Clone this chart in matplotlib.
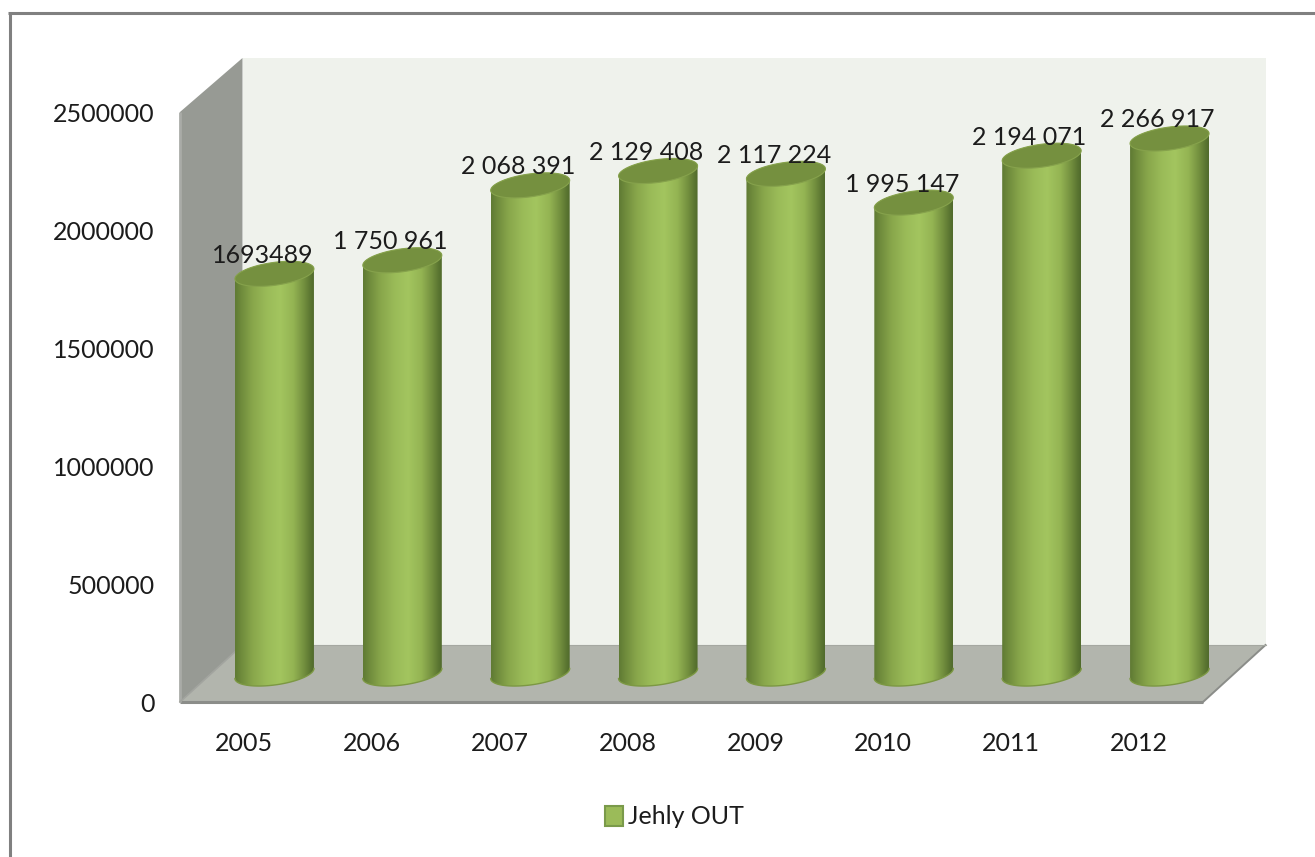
import numpy as np
import matplotlib
matplotlib.use("Agg")
import matplotlib.pyplot as plt
from matplotlib.colors import LinearSegmentedColormap
from matplotlib.lines import Line2D
from matplotlib.patches import Patch, PathPatch, Polygon
from matplotlib.path import Path

plt.rcParams['font.family'] = ['Lato', 'DejaVu Sans']

years = ['2005', '2006', '2007', '2008', '2009', '2010', '2011', '2012']
values = [1693489, 1750961, 2068391, 2129408, 2117224, 1995147, 2194071, 2266917]
value_labels = ['1693489', '1 750 961', '2 068 391', '2 129 408',
                '2 117 224', '1 995 147', '2 194 071', '2 266 917']
y_ticks = [0, 500000, 1000000, 1500000, 2000000, 2500000]
series_name = 'Jehly OUT'

W, H = 1315, 857
LEFT, RIGHT, BASE, TOP = 180, 1203, 702, 112
Y_MAX = 2500000
TEXT = '#1c1c1c'
FONT = 18

fig = plt.figure(figsize=(W / 100, H / 100), dpi=100, facecolor='white')
ax = fig.add_axes([LEFT / W, (H - BASE) / H, (RIGHT - LEFT) / W, (BASE - TOP) / H])
ax.set_xlim(-0.5, len(years) - 0.5)
ax.set_ylim(0, Y_MAX)
ax.patch.set_visible(False)
for spine in ax.spines.values():
    spine.set_visible(False)

# pixel lengths expressed in data units
ux = len(years) / (RIGHT - LEFT)
uy = Y_MAX / (BASE - TOP)
x0, x1 = -0.5, len(years) - 0.5
depth_x, depth_y = 62.5 * ux, 57 * uy
wall_top = Y_MAX + 54 * uy

# walls of the 3-D box
ax.add_patch(Polygon([(x0 + depth_x, depth_y), (x1 + depth_x, depth_y),
                      (x1 + depth_x, wall_top), (x0 + depth_x, wall_top)],
                     fc='#eff2ec', ec='none', zorder=1, clip_on=False))
ax.add_patch(Polygon([(x0, 0), (x0, Y_MAX), (x0 + depth_x, wall_top), (x0 + depth_x, depth_y)],
                     fc='#979a94', ec='none', zorder=1.1, clip_on=False))
ax.add_patch(Polygon([(x0, 0), (x1, 0), (x1 + depth_x, depth_y), (x0 + depth_x, depth_y)],
                     fc='#b2b5ad', ec='none', zorder=1.2, clip_on=False))
ax.plot([x0, x1], [0, 0], color='#8b8d89', lw=2.2, zorder=1.3, clip_on=False, solid_capstyle='butt')
ax.plot([x0, x0], [0, Y_MAX], color='#a9aba7', lw=2.0, zorder=1.3, clip_on=False, solid_capstyle='butt')
ax.plot([x0, x0 + depth_x], [0, depth_y], color='#a2a49f', lw=1.2, zorder=1.3, clip_on=False)
ax.plot([x1, x1 + depth_x], [0, depth_y], color='#8b8d89', lw=1.4, zorder=1.3, clip_on=False)
ax.plot([x0 + depth_x, x1 + depth_x], [depth_y, depth_y], color='#a5a8a1', lw=0.8, zorder=1.3, clip_on=False)

# cylinders
body_cmap = LinearSegmentedColormap.from_list('body', [
    (0.00, '#5f7a34'), (0.08, '#6f8b3c'), (0.22, '#88a64b'), (0.40, '#9abb58'),
    (0.57, '#a3c55f'), (0.74, '#94b453'), (0.88, '#728e3e'), (0.96, '#5a7531'), (1.00, '#506a2c')])
gradient = np.linspace(0, 1, 256)[None, :]

cx_shift, cy_shift = 30.5 * ux, 28.5 * uy
semi_a, semi_b, shear = 39.5 * ux, 11.5 * uy, 5.0 * uy


def rim(xc, yc, t):
    return xc + semi_a * np.cos(t), yc + semi_b * np.sin(t) + shear * np.cos(t)


for i, (value, label) in enumerate(zip(values, value_labels)):
    xc = i + cx_shift
    y_bottom, y_top = cy_shift, value + cy_shift

    tb = np.linspace(np.pi, 2 * np.pi, 60)
    bx, by = rim(xc, y_bottom, tb)
    tt = np.linspace(0, np.pi, 60)
    top_x, top_y = rim(xc, y_top, tt)
    outline = Path(np.column_stack([np.r_[bx, top_x, bx[0]], np.r_[by, top_y, by[0]]]))
    im = ax.imshow(gradient, extent=[xc - semi_a, xc + semi_a, y_bottom - 20 * uy, y_top + 20 * uy],
                   cmap=body_cmap, aspect='auto', zorder=3, interpolation='bilinear')
    clip = PathPatch(outline, transform=ax.transData, fc='none', ec='none')
    ax.add_patch(clip)
    im.set_clip_box(fig.bbox)
    im.set_clip_path(clip)
    ax.plot(bx, by, color='#7c9843', lw=1.0, zorder=3.1, clip_on=False)

    tc = np.linspace(0, 2 * np.pi, 120)
    cap_x, cap_y = rim(xc, y_top, tc)
    ax.add_patch(Polygon(np.column_stack([cap_x, cap_y]), fc='#75903f', ec='#86a24c', lw=0.8,
                         zorder=3.2, clip_on=False))

    ax.annotate(label, xy=(xc, y_top), xytext=(-8.7, 8), textcoords='offset points',
                ha='center', va='baseline', fontsize=FONT, color=TEXT, zorder=5,
                annotation_clip=False)

ax.set_xlim(-0.5, len(years) - 0.5)
ax.set_ylim(0, Y_MAX)

ax.set_xticks(range(len(years)))
ax.set_xticklabels(years)
ax.set_yticks(y_ticks)
ax.set_yticklabels([str(v) for v in y_ticks])
ax.tick_params(axis='x', length=0, pad=21.5, labelsize=FONT, labelcolor=TEXT)
ax.tick_params(axis='y', length=0, pad=18.5, labelsize=FONT, labelcolor=TEXT)

# legend
handle = Patch(facecolor='#9bbb59', edgecolor='#7a9a4a', linewidth=1.5)
fig.legend([handle], [series_name], loc='center', bbox_to_anchor=(674 / W, 1 - 817 / H),
           frameon=False, fontsize=FONT, handlelength=0.72, handleheight=0.88,
           handletextpad=0.2, labelcolor=TEXT)

# outer frame, top and left only
fig.add_artist(Line2D([9.5 / W, 9.5 / W], [0, 1 - 12.5 / H], color='#808080', lw=2.2, solid_capstyle='butt'))
fig.add_artist(Line2D([8 / W, 1], [1 - 12.5 / H, 1 - 12.5 / H], color='#808080', lw=2.2, solid_capstyle='butt'))

fig.savefig('out.png', dpi=100)
